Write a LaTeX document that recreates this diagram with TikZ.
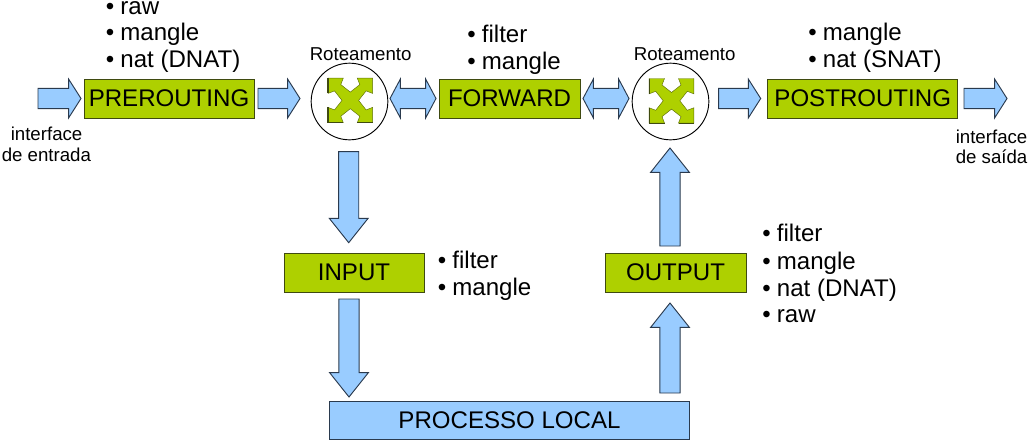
\documentclass[tikz,border=0pt]{standalone}
\usepackage{fontspec}
\setmainfont{Liberation Sans}
\usetikzlibrary{shapes.arrows}
\definecolor{boxgreen}{HTML}{AED000}
\definecolor{boxblue}{HTML}{99CCFF}
\definecolor{edgegreen}{HTML}{3F4A10}
\definecolor{edgeblue}{HTML}{2A3A4E}
\newcommand{\bigtxt}{\fontsize{18.05pt}{20pt}\selectfont}
\newcommand{\smalltxt}{\fontsize{14pt}{16pt}\selectfont}
\newcommand{\bl}[1]{\makebox[11pt][l]{\textbullet}#1}
\tikzset{
  chainbox/.style={draw=edgegreen,fill=boxgreen,line width=0.7pt,inner sep=0pt,outer sep=0pt,
    minimum width=#1*0.75pt,minimum height=29pt,font=\bigtxt},
  procbox/.style={draw=edgeblue,fill=boxblue,line width=0.7pt,inner sep=0pt,outer sep=0pt,
    minimum width=#1*0.75pt,minimum height=28.5pt,font=\bigtxt},
  arrowbase/.style={draw=edgeblue,fill=boxblue,line width=0.7pt,inner sep=0pt,outer sep=0pt,
    text height=14.4pt,text depth=0pt,text width=0pt},
  sidearrow/.style={single arrow,arrowbase,anchor=tail,minimum height=#1*0.75pt,
    single arrow head extend=7pt,single arrow tip angle=115},
  vertarrow/.style={single arrow,arrowbase,anchor=tail,minimum height=#1*0.75pt,
    single arrow head extend=7pt,single arrow tip angle=77},
  bothways/.style={double arrow,arrowbase,minimum height=46*0.75pt,
    double arrow head extend=7pt,double arrow tip angle=124},
  router/.style={circle,draw=black,fill=white,line width=0.7pt,inner sep=0pt,outer sep=0pt,minimum size=57.5pt},
  listline/.style={anchor=base west,inner sep=0pt,font=\bigtxt},
  notetext/.style={anchor=base west,inner sep=0pt,font=\smalltxt},
  pics/crossmark/.style={code={
    \draw[fill=boxgreen,draw=edgegreen!70!boxgreen,line width=0.35pt]
      (-22.3,-22.3) -- (-7,-22.3) -- (-9.5,-15.8) -- (0,-8.3) -- (9.5,-15.8) -- (7,-22.3)
      -- (22.3,-22.3) -- (22.3,-7) -- (15.8,-9.5) -- (8.3,0) -- (15.8,9.5) -- (22.3,7)
      -- (22.3,22.3) -- (7,22.3) -- (9.5,15.8) -- (0,8.3) -- (-9.5,15.8) -- (-7,22.3)
      -- (-22.3,22.3) -- (-22.3,7) -- (-15.8,9.5) -- (-8.3,0) -- (-15.8,-9.5) -- (-22.3,-7) -- cycle;
    \draw[edgegreen,line width=0.8pt] (-22.3,-22.3) -- (-22.3,-7) (-22.3,7) -- (-22.3,22.3) -- (-7,22.3) (7,22.3) -- (22.3,22.3);
  }}
}
\begin{document}
\begin{tikzpicture}[x=0.75pt,y=-0.75pt]
\useasboundingbox[fill=white] (0,0) rectangle (1030,446);
% chain boxes
\node[chainbox=170] (pre) at (169,98.7) {PREROUTING};
\node[chainbox=141] (fwd) at (509.5,98.7) {FORWARD};
\node[chainbox=190] (post) at (862.7,98.7) {POSTROUTING};
\node[chainbox=140] (inp) at (354,272.7) {INPUT};
\node[chainbox=141] (outp) at (675.5,272.7) {OUTPUT};
\node[procbox=359.5] (proc) at (509.5,420.2) {PROCESSO LOCAL};
% routers
\node[router] (r1) at (349.5,101.5) {};
\node[router] (r2) at (670.5,101.5) {};
\pic (x1) at (350.3,100.4) {crossmark};
\pic (x2) at (671.5,100.8) {crossmark};
% block arrows
\node[sidearrow=43] (a1) at (38,98.5) {};
\node[sidearrow=42] (a2) at (258,98.5) {};
\node[bothways] (d1) at (413,98.5) {};
\node[bothways] (d2) at (606,98.5) {};
\node[sidearrow=42] (a3) at (718.7,98.5) {};
\node[sidearrow=43] (a4) at (964,98.5) {};
\node[vertarrow=91,rotate=-90] (v1) at (348.7,151.7) {};
\node[vertarrow=98,rotate=-90] (v2) at (349,299) {};
\node[vertarrow=90,rotate=90] (v3) at (670,393) {};
\node[vertarrow=98,rotate=90] (v4) at (670,246) {};
% lists
\node[listline] (l1) at (105.5,14) {\bl{raw}};
\node[listline] (l2) at (105.5,40.7) {\bl{mangle}};
\node[listline] (l3) at (105.5,67.5) {\bl{nat (DNAT)}};
\node[listline] (l4) at (467,42) {\bl{filter}};
\node[listline] (l5) at (467,69) {\bl{mangle}};
\node[listline] (l6) at (808,40.7) {\bl{mangle}};
\node[listline] (l7) at (808,67.5) {\bl{nat (SNAT)}};
\node[listline] (l8) at (437.5,268) {\bl{filter}};
\node[listline] (l9) at (437.5,295.7) {\bl{mangle}};
\node[listline] (l10) at (762,241.7) {\bl{filter}};
\node[listline] (l11) at (762,269) {\bl{mangle}};
\node[listline] (l12) at (762,296) {\bl{nat (DNAT)}};
\node[listline] (l13) at (762,322.7) {\bl{raw}};
% notes
\node[notetext] (t1) at (309.5,60) {Roteamento};
\node[notetext] (t2) at (633.5,60) {Roteamento};
\node[notetext] (t3) at (10.5,140) {interface};
\node[notetext] (t4) at (1.5,161) {de entrada};
\node[notetext] (t5) at (955.5,143) {interface};
\node[notetext] (t6) at (955.5,163.3) {de saída};
\end{tikzpicture}
\end{document}
